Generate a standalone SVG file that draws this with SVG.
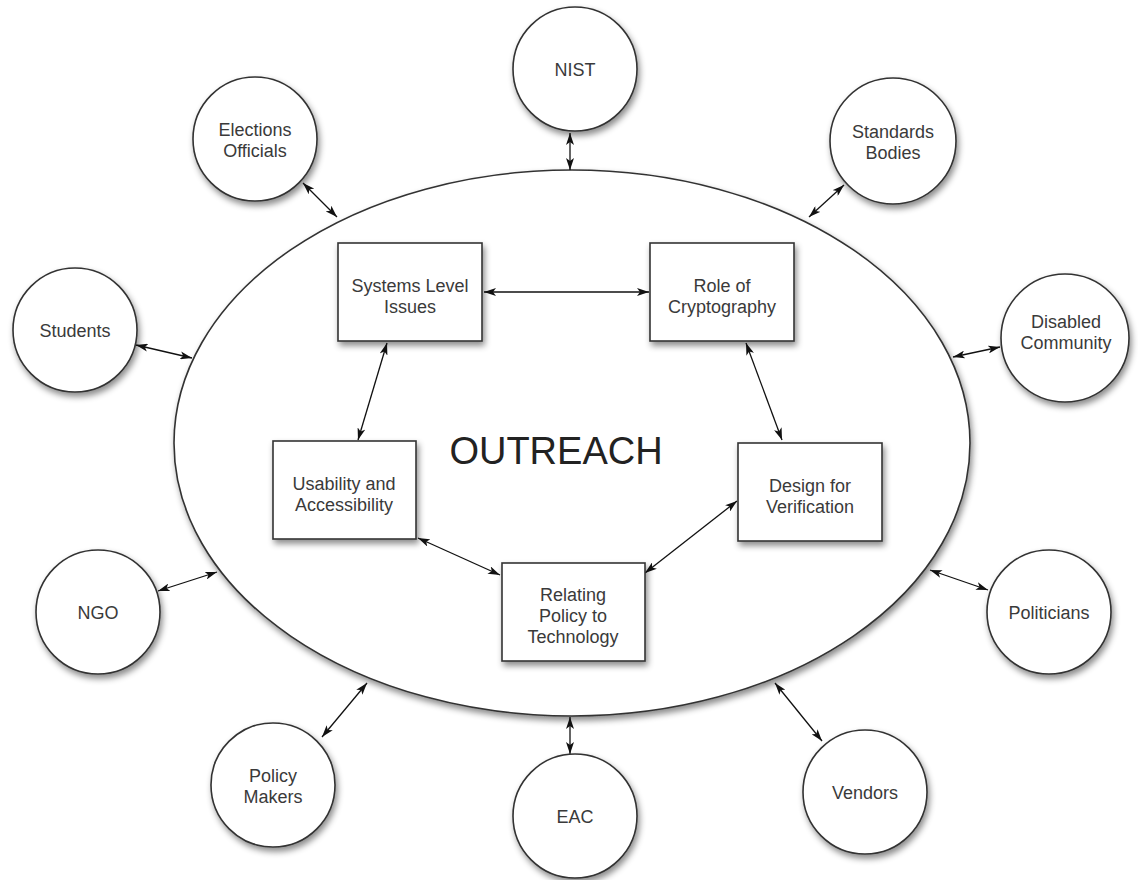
<svg xmlns="http://www.w3.org/2000/svg" width="1138" height="880" viewBox="0 0 1138 880">
<style>
.n{fill:#fff;stroke:#333;stroke-width:1.6;filter:url(#sh)}
.t{font-family:"Liberation Sans",Arial,sans-serif;font-size:18px;fill:#3a3a3a;text-anchor:middle}
.c{stroke:#111;stroke-width:1.3;fill:none;marker-start:url(#ah);marker-end:url(#ah)}
</style>
<defs>
<filter id="sh" x="-20%" y="-20%" width="150%" height="150%">
<feDropShadow dx="2" dy="4" stdDeviation="3" flood-color="#000" flood-opacity="0.45"/>
</filter>
<marker id="ah" viewBox="0 0 12 8" refX="12" refY="4" markerWidth="12" markerHeight="8" markerUnits="userSpaceOnUse" orient="auto-start-reverse">
<path d="M0,0 L12,4 L0,8 L3,4 Z" fill="#111"/>
</marker>
</defs>
<rect width="1138" height="880" fill="#fff"/>
<g id="outreach">
<ellipse class="n" cx="572" cy="443" rx="398" ry="273"/>
<text x="556" y="464" font-family="Liberation Sans,Arial,sans-serif" font-size="38" fill="#222" text-anchor="middle">OUTREACH</text>
</g>
<g id="connectors">
<line class="c" x1="484" y1="292" x2="649" y2="292"/>
<line class="c" x1="387" y1="343" x2="358" y2="440"/>
<line class="c" x1="746" y1="343" x2="782" y2="440"/>
<line class="c" x1="418" y1="538" x2="500" y2="575"/>
<line class="c" x1="737" y1="501" x2="645" y2="573"/>
<line class="c" x1="570" y1="133" x2="570" y2="170"/>
<line class="c" x1="303" y1="183" x2="337" y2="217"/>
<line class="c" x1="844" y1="185" x2="809" y2="217"/>
<line class="c" x1="136" y1="345" x2="192" y2="358"/>
<line class="c" x1="1000" y1="347" x2="953" y2="357"/>
<line class="c" x1="158" y1="591" x2="217" y2="572"/>
<line class="c" x1="988" y1="590" x2="930" y2="570"/>
<line class="c" x1="322" y1="737" x2="367" y2="683"/>
<line class="c" x1="570" y1="717" x2="570" y2="754"/>
<line class="c" x1="822" y1="741" x2="775" y2="683"/>
</g>
<g id="systems"><rect class="n" x="338" y="243" width="144" height="98"/><text class="t" x="410" y="292">Systems Level</text><text class="t" x="410" y="313">Issues</text></g>
<g id="crypto"><rect class="n" x="650" y="243" width="144" height="98"/><text class="t" x="722" y="292">Role of</text><text class="t" x="722" y="313">Cryptography</text></g>
<g id="usability"><rect class="n" x="273" y="441" width="143" height="98"/><text class="t" x="344" y="490">Usability and</text><text class="t" x="344" y="511">Accessibility</text></g>
<g id="design"><rect class="n" x="738" y="443" width="144" height="98"/><text class="t" x="810" y="492">Design for</text><text class="t" x="810" y="513">Verification</text></g>
<g id="policy"><rect class="n" x="502" y="563" width="143" height="98"/><text class="t" x="573" y="601">Relating</text><text class="t" x="573" y="622">Policy to</text><text class="t" x="573" y="643">Technology</text></g>
<g id="nist"><circle class="n" cx="575" cy="69" r="62"/><text class="t" x="575" y="76">NIST</text></g>
<g id="elections"><circle class="n" cx="255" cy="139" r="62"/><text class="t" x="255" y="136">Elections</text><text class="t" x="255" y="157">Officials</text></g>
<g id="standards"><circle class="n" cx="893" cy="141" r="63"/><text class="t" x="893" y="138">Standards</text><text class="t" x="893" y="159">Bodies</text></g>
<g id="students"><circle class="n" cx="75" cy="330" r="62"/><text class="t" x="75" y="337">Students</text></g>
<g id="disabled"><circle class="n" cx="1065" cy="338" r="64"/><text class="t" x="1066" y="328">Disabled</text><text class="t" x="1066" y="349">Community</text></g>
<g id="ngo"><circle class="n" cx="98" cy="612" r="62"/><text class="t" x="98" y="619">NGO</text></g>
<g id="politicians"><circle class="n" cx="1049" cy="612" r="62"/><text class="t" x="1049" y="619">Politicians</text></g>
<g id="policymakers"><circle class="n" cx="273" cy="785" r="62"/><text class="t" x="273" y="782">Policy</text><text class="t" x="273" y="803">Makers</text></g>
<g id="eac"><circle class="n" cx="575" cy="816" r="62"/><text class="t" x="575" y="823">EAC</text></g>
<g id="vendors"><circle class="n" cx="865" cy="792" r="62"/><text class="t" x="865" y="799">Vendors</text></g>
</svg>
